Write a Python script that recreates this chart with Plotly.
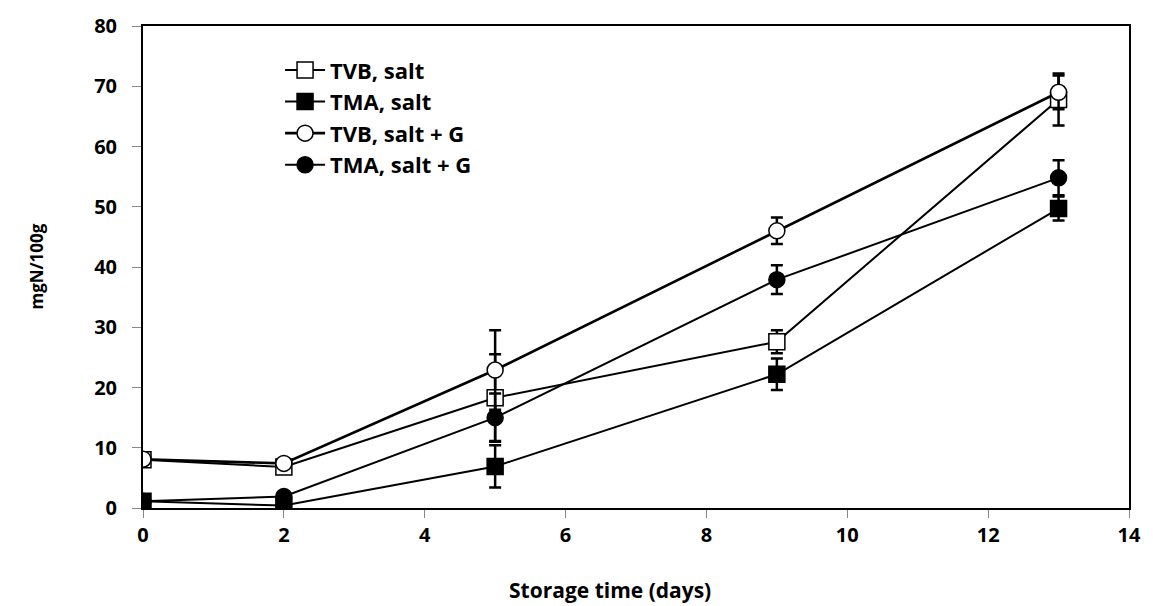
import plotly.graph_objects as go

days = [0, 2, 5, 9, 13]

tvb_salt = [8.0, 6.8, 18.3, 27.6, 67.8]
tvb_salt_err = [0.6, 1.0, 7.2, 1.9, 4.3]

tma_salt = [1.1, 0.4, 6.9, 22.2, 49.7]
tma_salt_err = [0.4, 0.4, 3.5, 2.6, 2.0]

tvb_saltg = [8.1, 7.4, 22.9, 46.0, 69.0]
tvb_saltg_err = [0.5, 0.5, 6.6, 2.2, 2.8]

tma_saltg = [1.1, 1.9, 15.0, 37.9, 54.8]
tma_saltg_err = [0.3, 0.4, 4.0, 2.4, 2.9]

x_title = "Storage time (days)"
y_title = "mgN/100g"

series = [
    ("TVB, salt", tvb_salt, tvb_salt_err, "square", "white", 2.0),
    ("TMA, salt", tma_salt, tma_salt_err, "square", "black", 2.0),
    ("TVB, salt + G", tvb_saltg, tvb_saltg_err, "circle", "white", 2.6),
    ("TMA, salt + G", tma_saltg, tma_saltg_err, "circle", "black", 2.0),
]

FONT = "'Open Sans', Lato, sans-serif"

fig = go.Figure()
for i, (name, y, err, sym, fill, lw) in enumerate(series):
    fig.add_trace(go.Scatter(
        x=days, y=y, name=name, mode="lines+markers", legendgroup=f"g{i}",
        line=dict(color="black", width=lw),
        marker=dict(symbol=sym, size=16, color=fill,
                    line=dict(color="black", width=1.5)),
        error_y=dict(type="data", array=err, visible=True, color="black",
                     thickness=2.5, width=6),
    ))

fig.update_layout(
    width=1153, height=606,
    margin=dict(l=143, r=19, t=26, b=98),
    plot_bgcolor="white", paper_bgcolor="white",
    font=dict(family=FONT, size=20, color="black"),
    showlegend=True,
    legend=dict(
        x=0.139, y=0.952, xanchor="left", yanchor="top",
        bgcolor="rgba(0,0,0,0)", borderwidth=0,
        font=dict(family=FONT, size=22, color="black", weight="bold"),
        tracegroupgap=0, itemwidth=40,
    ),
    xaxis=dict(
        range=[0, 14], dtick=2, tick0=0,
        showgrid=False, zeroline=False,
        showline=True, linecolor="black", linewidth=2, mirror=True,
        ticks="outside", ticklen=8, tickcolor="#888", tickwidth=1,
        tickfont=dict(family=FONT, size=20, color="black", weight="bold"),
    ),
    yaxis=dict(
        range=[0, 80], dtick=10, tick0=0,
        showgrid=False, zeroline=False,
        showline=True, linecolor="black", linewidth=2, mirror=True,
        ticks="outside", ticklen=9, tickcolor="#888", tickwidth=1,
        ticklabelstandoff=11,
        tickfont=dict(family=FONT, size=20, color="black", weight="bold"),
    ),
    annotations=[
        dict(text=f"<b>{x_title}</b>", xref="paper", yref="paper",
             x=0.474, y=-0.170, xanchor="center", yanchor="middle",
             showarrow=False, font=dict(family=FONT, size=21, color="black")),
        dict(text=f"<b>{y_title}</b>", xref="paper", yref="paper",
             x=-0.109, y=0.50, xanchor="center", yanchor="middle", textangle=-90,
             showarrow=False, font=dict(family=FONT, size=17, color="black")),
    ],
)

fig.write_html("out.html")
